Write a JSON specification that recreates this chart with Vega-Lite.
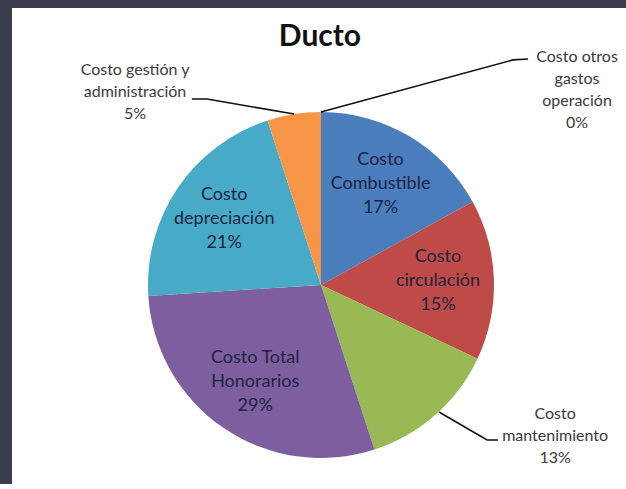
{
  "$schema": "https://vega.github.io/schema/vega-lite/v6.json",
  "width": 614,
  "height": 476,
  "autosize": {"type": "none", "contains": "content"},
  "padding": {"left": 12, "top": 8, "right": 0, "bottom": 0},
  "background": "#3c3e4f",
  "config": {"view": {"fill": "white", "stroke": null}, "font": "Lato"},
  "datasets": {
    "slices": [
      {"category": "Costo Combustible", "share": 17, "order": 1, "label": "Costo\nCombustible\n17%"},
      {"category": "Costo circulación", "share": 15, "order": 2, "label": "Costo\ncirculación\n15%"},
      {"category": "Costo mantenimiento", "share": 13, "order": 3, "label": ""},
      {"category": "Costo Total Honorarios", "share": 29, "order": 4, "label": "Costo  Total\nHonorarios\n29%"},
      {"category": "Costo depreciación", "share": 21, "order": 5, "label": "Costo\ndepreciación\n21%"},
      {"category": "Costo gestión y administración", "share": 5, "order": 6, "label": ""},
      {"category": "Costo otros gastos operación", "share": 0, "order": 7, "label": ""}
    ],
    "leaders": [
      {"category": "Costo otros gastos operación", "step": 1, "x": 0.0, "y": 1.0},
      {"category": "Costo otros gastos operación", "step": 2, "x": 1.11, "y": 1.301},
      {"category": "Costo otros gastos operación", "step": 3, "x": 1.197, "y": 1.306},
      {"category": "Costo gestión y administración", "step": 1, "x": -0.156, "y": 0.988},
      {"category": "Costo gestión y administración", "step": 2, "x": -0.659, "y": 1.075},
      {"category": "Costo gestión y administración", "step": 3, "x": -0.746, "y": 1.075},
      {"category": "Costo mantenimiento", "step": 1, "x": 0.682, "y": -0.734},
      {"category": "Costo mantenimiento", "step": 2, "x": 0.96, "y": -0.896},
      {"category": "Costo mantenimiento", "step": 3, "x": 1.023, "y": -0.896}
    ],
    "callouts": [
      {"category": "Costo gestión y administración", "label": "Costo gestión y\nadministración\n5%", "x": -1.075, "y": 1.243},
      {"category": "Costo otros gastos operación", "label": "Costo otros\ngastos\noperación\n0%", "x": 1.48, "y": 1.318},
      {"category": "Costo mantenimiento", "label": "Costo\nmantenimiento\n13%", "x": 1.353, "y": -0.746}
    ]
  },
  "layer": [
    {
      "data": {"values": [{"panel": "plot area"}]},
      "mark": {"type": "rect", "color": "white"},
      "encoding": {
        "x": {"datum": -1.786, "type": "quantitative", "scale": {"domain": [-1.786, 1.763], "nice": false, "zero": false}, "axis": null},
        "x2": {"datum": 1.763},
        "y": {"datum": -1.15, "type": "quantitative", "scale": {"domain": [-1.15, 1.601], "nice": false, "zero": false}, "axis": null},
        "y2": {"datum": 1.601}
      }
    },
    {
      "data": {"name": "slices"},
      "mark": {"type": "arc", "outerRadius": 173},
      "encoding": {
        "theta": {"field": "share", "type": "quantitative", "stack": true},
        "order": {"field": "order", "type": "quantitative"},
        "color": {
          "field": "category", "type": "nominal", "legend": null,
          "scale": {
            "domain": ["Costo Combustible", "Costo circulación", "Costo mantenimiento", "Costo Total Honorarios", "Costo depreciación", "Costo gestión y administración", "Costo otros gastos operación"],
            "range": ["#4a7ebd", "#be4b48", "#98b954", "#7d5fa0", "#47abc7", "#f79646", "#2c4d75"]
          }
        },
        "x": {"datum": 0, "type": "quantitative", "scale": {"nice": false, "zero": false}, "axis": null},
        "y": {"datum": 0, "type": "quantitative", "scale": {"nice": false, "zero": false}, "axis": null}
      }
    },
    {
      "data": {"name": "slices"},
      "mark": {"type": "text", "radius": 117, "dy": -24, "lineBreak": "\n", "fontSize": 18, "lineHeight": 24, "baseline": "middle", "align": "center", "color": "#1f2340"},
      "encoding": {
        "theta": {"field": "share", "type": "quantitative", "stack": true},
        "order": {"field": "order", "type": "quantitative"},
        "text": {"field": "label"},
        "x": {"datum": 0, "type": "quantitative", "scale": {"nice": false, "zero": false}, "axis": null},
        "y": {"datum": 0, "type": "quantitative", "scale": {"nice": false, "zero": false}, "axis": null}
      }
    },
    {
      "data": {"name": "leaders"},
      "mark": {"type": "line", "color": "#111111", "strokeWidth": 1.6},
      "encoding": {
        "x": {"field": "x", "type": "quantitative", "scale": {"nice": false, "zero": false}, "axis": null},
        "y": {"field": "y", "type": "quantitative", "scale": {"nice": false, "zero": false}, "axis": null},
        "detail": {"field": "category"},
        "order": {"field": "step", "type": "quantitative"}
      }
    },
    {
      "data": {"name": "callouts"},
      "mark": {"type": "text", "lineBreak": "\n", "fontSize": 16, "lineHeight": 22, "baseline": "middle", "align": "center", "color": "#3a3a3a"},
      "encoding": {
        "x": {"field": "x", "type": "quantitative", "scale": {"nice": false, "zero": false}, "axis": null},
        "y": {"field": "y", "type": "quantitative", "scale": {"nice": false, "zero": false}, "axis": null},
        "text": {"field": "label"}
      }
    },
    {
      "data": {"values": [{"title": "Ducto"}]},
      "mark": {"type": "text", "fontSize": 30, "fontWeight": "bold", "baseline": "middle", "align": "center", "color": "#111111"},
      "encoding": {
        "x": {"datum": -0.006, "type": "quantitative", "scale": {"nice": false, "zero": false}, "axis": null},
        "y": {"datum": 1.431, "type": "quantitative", "scale": {"nice": false, "zero": false}, "axis": null},
        "text": {"field": "title"}
      }
    }
  ]
}
